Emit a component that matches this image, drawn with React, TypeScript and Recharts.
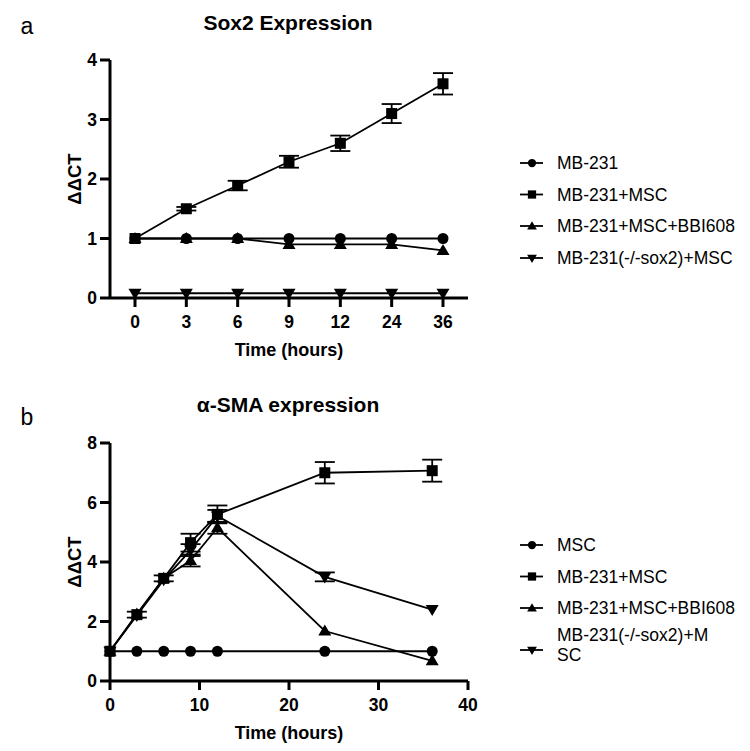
import { ErrorBar, Label, Line, LineChart, XAxis, YAxis } from 'recharts';

const FONT = '"Liberation Sans", Arial, sans-serif';

// panel a: Sox2 expression (categorical time axis)
const hoursA = ['0', '3', '6', '9', '12', '24', '36'];
const mb231A = [1, 1, 1, 1, 1, 1, 1];
const mb231MscA = [1, 1.5, 1.89, 2.29, 2.6, 3.1, 3.6];
const mb231MscErrA = [0, 0.03, 0.08, 0.1, 0.13, 0.16, 0.18];
const bbiA = [1, 1, 1, 0.9, 0.9, 0.9, 0.8];
const koA = [0.08, 0.08, 0.08, 0.08, 0.08, 0.08, 0.08];
const legendA = ['MB-231', 'MB-231+MSC', 'MB-231+MSC+BBI608', 'MB-231(-/-sox2)+MSC'];

// panel b: α-SMA expression (numeric time axis)
const hoursB = [0, 3, 6, 9, 12, 24, 36];
const mscB = [1, 1, 1, 1, 1, 1, 1];
const mb231MscB = [1, 2.23, 3.45, 4.65, 5.6, 7.0, 7.07];
const mb231MscErrB = [0, 0.1, 0.1, 0.3, 0.3, 0.36, 0.37];
const bbiB = [1, 2.25, 3.45, 4.05, 5.15, 1.68, 0.68];
const bbiErrB = [0, 0, 0, 0.2, 0.2, 0, 0];
const koB = [1, 2.2, 3.4, 4.4, 5.55, 3.5, 2.4];
const koErrB = [0, 0, 0, 0.2, 0.2, 0.15, 0];
const legendB = ['MSC', 'MB-231+MSC', 'MB-231+MSC+BBI608', ['MB-231(-/-sox2)+M', 'SC']];

const dataA = hoursA.map((hour, i) => ({
	hour,
	mb231: mb231A[i],
	mb231Msc: mb231MscA[i],
	mb231MscErr: mb231MscErrA[i],
	bbi: bbiA[i],
	ko: koA[i],
}));

const dataB = hoursB.map((hour, i) => ({
	hour,
	msc: mscB[i],
	mb231Msc: mb231MscB[i],
	mb231MscErr: mb231MscErrB[i],
	bbi: bbiB[i],
	bbiErr: bbiErrB[i],
	ko: koB[i],
	koErr: koErrB[i],
}));

type Kind = 'circle' | 'square' | 'up' | 'down';
const kinds: Kind[] = ['circle', 'square', 'up', 'down'];

const Marker = ({ kind, cx, cy, s = 1 }: { kind: Kind; cx: number; cy: number; s?: number }) => {
	if (kind === 'circle') return <circle cx={cx} cy={cy} r={5.5 * s} fill="#000" />;
	if (kind === 'square')
		return <rect x={cx - 5.5 * s} y={cy - 5.5 * s} width={11 * s} height={11 * s} fill="#000" />;
	const d = kind === 'up' ? 1 : -1;
	const pts = [
		[cx, cy - 6.5 * s * d],
		[cx + 6.5 * s, cy + 4.5 * s * d],
		[cx - 6.5 * s, cy + 4.5 * s * d],
	]
		.map(p => p.join(','))
		.join(' ');
	return <polygon points={pts} fill="#000" />;
};

const dotOf = (kind: Kind) => (props: any) => {
	const { key, cx, cy } = props;
	if (cx == null || cy == null) return <g key={key} />;
	return <Marker key={key} kind={kind} cx={cx} cy={cy} />;
};

const axisStyle = { stroke: '#000', strokeWidth: 3 };
const tickStyle = { fill: '#000', fontSize: 17.5, fontWeight: 700, fontFamily: FONT };

const yLabel = (props: any) => {
	const { x, y, height } = props.viewBox;
	const cx = x + 74;
	const cy = y + height / 2;
	return (
		<text
			x={cx}
			y={cy}
			transform={`rotate(-90 ${cx} ${cy})`}
			textAnchor="middle"
			dominantBaseline="central"
			fontFamily={FONT}
			fontWeight={700}
			fontSize={18.5}
			fill="#000"
		>
			ΔΔCT
		</text>
	);
};

const xLabel = (props: any) => {
	const { x, y, width } = props.viewBox;
	return (
		<text
			x={x + width / 2}
			y={y + 52}
			textAnchor="middle"
			dominantBaseline="central"
			fontFamily={FONT}
			fontWeight={700}
			fontSize={18}
			fill="#000"
		>
			Time (hours)
		</text>
	);
};

const lineProps = { stroke: '#000', strokeWidth: 1.8, isAnimationActive: false, activeDot: false as const };
const errProps = { width: 10, stroke: '#000', strokeWidth: 1.8, direction: 'y' as const, isAnimationActive: false };

const LegendBox = ({ top, labels }: { top: number; labels: (string | string[])[] }) => {
	const rows = [0, 31.5, 63, 95];
	return (
		<svg width={240} height={170} style={{ position: 'absolute', left: 510, top: top - 20 }}>
			{labels.map((label, i) => {
				const lines = Array.isArray(label) ? label : [label];
				const y = 20 + rows[i] + (lines.length > 1 ? 10 : 0);
				const ty = lines.length > 1 ? y - 5 : y;
				return (
					<g key={i}>
						<line x1={10} x2={33} y1={y} y2={y} stroke="#000" strokeWidth={1.8} />
						<Marker kind={kinds[i]} cx={22} cy={y} s={0.75} />
						<text fontFamily={FONT} fontSize={17.5} fill="#000">
							{lines.map((t, j) => (
								<tspan
									key={j}
									x={47}
									y={ty + (j - (lines.length - 1) / 2) * 20}
									dominantBaseline="central"
								>
									{t}
								</tspan>
							))}
						</text>
					</g>
				);
			})}
		</svg>
	);
};

const Title = ({ x, y, text, bold = true, size = 21 }: { x: number; y: number; text: string; bold?: boolean; size?: number }) => (
	<div
		style={{
			position: 'absolute',
			left: x,
			top: y,
			transform: 'translate(-50%, -50%)',
			fontFamily: FONT,
			fontWeight: bold ? 700 : 400,
			fontSize: size,
			color: '#000',
			whiteSpace: 'nowrap',
		}}
	>
		{text}
	</div>
);

export default function App() {
	return (
		<div style={{ position: 'absolute', left: 0, top: 0, width: 750, height: 751, background: '#fff' }}>
			<Title x={27} y={26} text="a" bold={false} size={23} />
			<Title x={288} y={23} text="Sox2 Expression" />
			<Title x={27} y={417} text="b" bold={false} size={23} />
			<Title x={288} y={405} text="α-SMA expression" />

			<div style={{ position: 'absolute', left: 0, top: 0 }}>
				<LineChart width={750} height={375} data={dataA} margin={{ top: 60, right: 282, bottom: 0, left: 0 }}>
					<XAxis
						dataKey="hour"
						type="category"
						padding={{ left: 25, right: 25 }}
						height={77}
						axisLine={axisStyle}
						tickLine={axisStyle}
						tickSize={9}
						tickMargin={9}
						tick={tickStyle}
						interval={0}
					>
						<Label content={xLabel} />
					</XAxis>
					<YAxis
						domain={[0, 4]}
						ticks={[0, 1, 2, 3, 4]}
						width={110}
						axisLine={axisStyle}
						tickLine={axisStyle}
						tickSize={10}
						tickMargin={3}
						tick={tickStyle}
					>
						<Label content={yLabel} />
					</YAxis>
					<Line dataKey="mb231" dot={dotOf('circle')} {...lineProps} />
					<Line dataKey="mb231Msc" dot={dotOf('square')} {...lineProps}>
						<ErrorBar dataKey="mb231MscErr" {...errProps} />
					</Line>
					<Line dataKey="bbi" dot={dotOf('up')} {...lineProps} />
					<Line dataKey="ko" dot={dotOf('down')} {...lineProps} />
				</LineChart>
			</div>
			<LegendBox top={163} labels={legendA} />

			<div style={{ position: 'absolute', left: 0, top: 375 }}>
				<LineChart width={750} height={376} data={dataB} margin={{ top: 68, right: 282, bottom: 0, left: 0 }}>
					<XAxis
						dataKey="hour"
						type="number"
						domain={[0, 40]}
						ticks={[0, 10, 20, 30, 40]}
						height={70}
						axisLine={axisStyle}
						tickLine={axisStyle}
						tickSize={9}
						tickMargin={9}
						tick={tickStyle}
					>
						<Label content={xLabel} />
					</XAxis>
					<YAxis
						domain={[0, 8]}
						ticks={[0, 2, 4, 6, 8]}
						width={110}
						axisLine={axisStyle}
						tickLine={axisStyle}
						tickSize={10}
						tickMargin={3}
						tick={tickStyle}
					>
						<Label content={yLabel} />
					</YAxis>
					<Line dataKey="msc" dot={dotOf('circle')} {...lineProps} />
					<Line dataKey="mb231Msc" dot={dotOf('square')} {...lineProps}>
						<ErrorBar dataKey="mb231MscErr" {...errProps} />
					</Line>
					<Line dataKey="bbi" dot={dotOf('up')} {...lineProps}>
						<ErrorBar dataKey="bbiErr" {...errProps} />
					</Line>
					<Line dataKey="ko" dot={dotOf('down')} {...lineProps}>
						<ErrorBar dataKey="koErr" {...errProps} />
					</Line>
				</LineChart>
			</div>
			<LegendBox top={545} labels={legendB} />
		</div>
	);
}
